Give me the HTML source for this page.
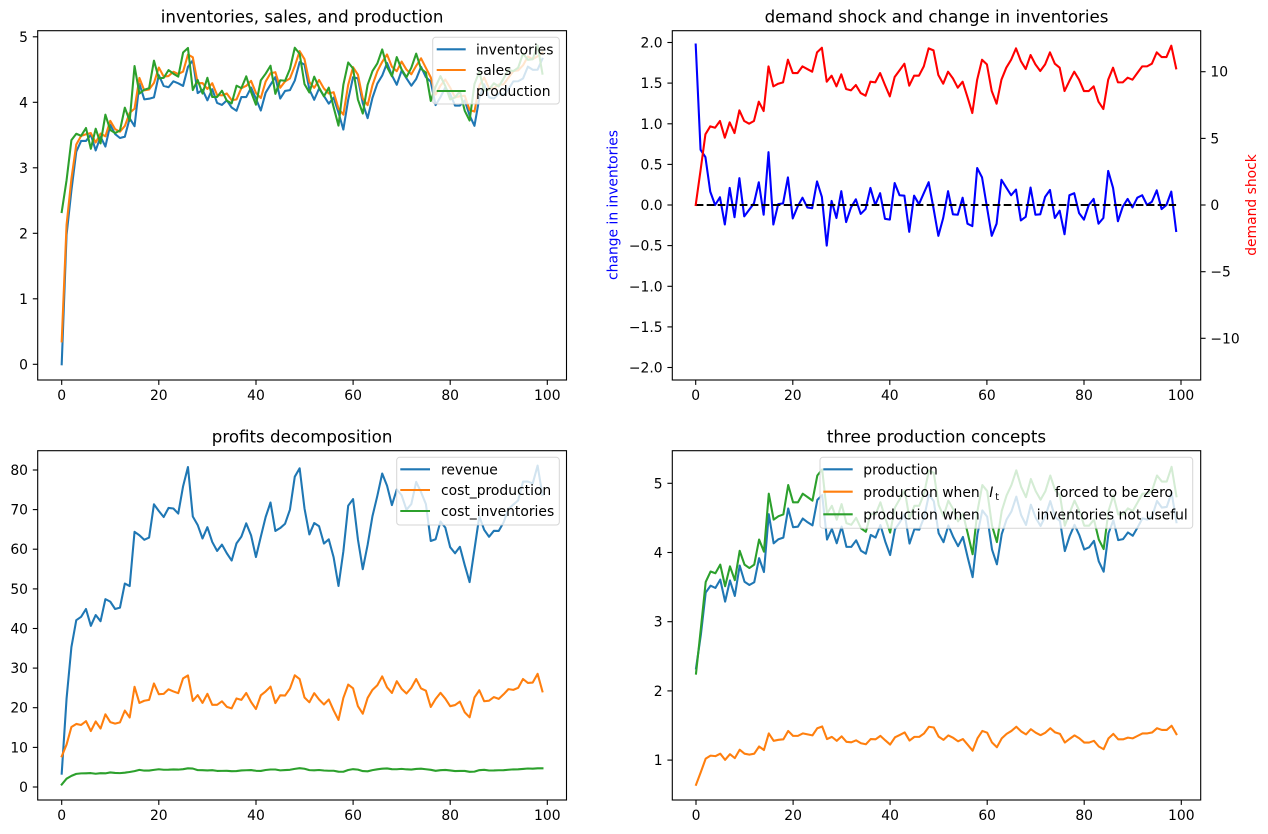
<!DOCTYPE html>
<html>
<head>
<meta charset="utf-8">
<style>
  html,body{margin:0;padding:0;background:#fff;}
  svg{display:block;}
  text{font-family:"DejaVu Sans","Liberation Sans",sans-serif;fill:#000;}
  .tk{font-size:13.89px;}
  .ttl{font-size:16.67px;}
  .lg{font-size:13.89px;}
</style>
</head>
<body>
<svg id="fig" width="1268" height="834" viewBox="0 0 1268 834" xmlns="http://www.w3.org/2000/svg">
  <rect x="0" y="0" width="1268" height="834" fill="#fff"/>

  <!-- ============ TOP LEFT ============ -->
  <g fill="none" stroke-width="2.08" stroke-linejoin="round" stroke-linecap="square">
    <polyline id="tl_inv" stroke="#1f77b4"/>
    <polyline id="tl_sal" stroke="#ff7f0e"/>
    <polyline id="tl_pro" stroke="#2ca02c"/>
  </g>
  <rect x="37.7" y="30.7" width="528.8" height="349.3" fill="none" stroke="#000" stroke-width="1.1"/>
  <g stroke="#000" stroke-width="1.1">
    <line x1="61.7" y1="380" x2="61.7" y2="384.9"/>
    <line x1="158.8" y1="380" x2="158.8" y2="384.9"/>
    <line x1="256.0" y1="380" x2="256.0" y2="384.9"/>
    <line x1="353.1" y1="380" x2="353.1" y2="384.9"/>
    <line x1="450.2" y1="380" x2="450.2" y2="384.9"/>
    <line x1="547.3" y1="380" x2="547.3" y2="384.9"/>
    <line x1="37.7" y1="364.3" x2="32.8" y2="364.3"/>
    <line x1="37.7" y1="298.8" x2="32.8" y2="298.8"/>
    <line x1="37.7" y1="233.3" x2="32.8" y2="233.3"/>
    <line x1="37.7" y1="167.8" x2="32.8" y2="167.8"/>
    <line x1="37.7" y1="102.3" x2="32.8" y2="102.3"/>
    <line x1="37.7" y1="36.8" x2="32.8" y2="36.8"/>
  </g>
  <g class="tk" text-anchor="middle">
    <text class="tk" x="61.7" y="400">0</text>
    <text class="tk" x="158.8" y="400">20</text>
    <text class="tk" x="256.0" y="400">40</text>
    <text class="tk" x="353.1" y="400">60</text>
    <text class="tk" x="450.2" y="400">80</text>
    <text class="tk" x="547.3" y="400">100</text>
  </g>
  <g text-anchor="end">
    <text class="tk" x="28" y="369.3">0</text>
    <text class="tk" x="28" y="303.8">1</text>
    <text class="tk" x="28" y="238.3">2</text>
    <text class="tk" x="28" y="172.8">3</text>
    <text class="tk" x="28" y="107.3">4</text>
    <text class="tk" x="28" y="41.8">5</text>
  </g>
  <text class="ttl" x="302.1" y="22.4" text-anchor="middle">inventories, sales, and production</text>
  <rect x="432.7" y="37.3" width="126.6" height="66.7" rx="3" fill="#fff" fill-opacity="0.8" stroke="#cccccc" stroke-opacity="0.8" stroke-width="1"/>
  <g stroke-width="2.08">
    <line x1="436.7" y1="49.3" x2="465.7" y2="49.3" stroke="#1f77b4"/>
    <line x1="436.7" y1="70" x2="465.7" y2="70" stroke="#ff7f0e"/>
    <line x1="436.7" y1="91" x2="465.7" y2="91" stroke="#2ca02c"/>
  </g>
  <text class="lg" x="476" y="54.5">inventories</text>
  <text class="lg" x="476" y="75.2">sales</text>
  <text class="lg" x="476" y="96.2">production</text>

  <!-- ============ TOP RIGHT ============ -->
  <g fill="none" stroke-width="2.08" stroke-linejoin="round" stroke-linecap="square">
    <polyline id="tr_di" stroke="#0000ff"/>
  </g>
  <line x1="695.7" y1="205" x2="1176.1" y2="205" stroke="#000" stroke-width="2.08" stroke-dasharray="7.7,3.3"/>
  <g fill="none" stroke-width="2.08" stroke-linejoin="round" stroke-linecap="square">
    <polyline id="tr_v" stroke="#ff0000"/>
  </g>
  <rect x="672.3" y="30.7" width="528.4" height="349.3" fill="none" stroke="#000" stroke-width="1.1"/>
  <g stroke="#000" stroke-width="1.1">
    <line x1="695.7" y1="380" x2="695.7" y2="384.9"/>
    <line x1="792.8" y1="380" x2="792.8" y2="384.9"/>
    <line x1="889.8" y1="380" x2="889.8" y2="384.9"/>
    <line x1="986.9" y1="380" x2="986.9" y2="384.9"/>
    <line x1="1084.0" y1="380" x2="1084.0" y2="384.9"/>
    <line x1="1181.0" y1="380" x2="1181.0" y2="384.9"/>
    <line x1="672.3" y1="42.5" x2="667.4" y2="42.5"/>
    <line x1="672.3" y1="83.1" x2="667.4" y2="83.1"/>
    <line x1="672.3" y1="123.8" x2="667.4" y2="123.8"/>
    <line x1="672.3" y1="164.4" x2="667.4" y2="164.4"/>
    <line x1="672.3" y1="205" x2="667.4" y2="205"/>
    <line x1="672.3" y1="245.6" x2="667.4" y2="245.6"/>
    <line x1="672.3" y1="286.3" x2="667.4" y2="286.3"/>
    <line x1="672.3" y1="326.9" x2="667.4" y2="326.9"/>
    <line x1="672.3" y1="367.5" x2="667.4" y2="367.5"/>
    <line x1="1200.7" y1="71.7" x2="1205.6" y2="71.7"/>
    <line x1="1200.7" y1="138.4" x2="1205.6" y2="138.4"/>
    <line x1="1200.7" y1="205" x2="1205.6" y2="205"/>
    <line x1="1200.7" y1="271.7" x2="1205.6" y2="271.7"/>
    <line x1="1200.7" y1="338.3" x2="1205.6" y2="338.3"/>
  </g>
  <g text-anchor="middle">
    <text class="tk" x="695.7" y="400">0</text>
    <text class="tk" x="792.8" y="400">20</text>
    <text class="tk" x="889.8" y="400">40</text>
    <text class="tk" x="986.9" y="400">60</text>
    <text class="tk" x="1084.0" y="400">80</text>
    <text class="tk" x="1181.0" y="400">100</text>
  </g>
  <g text-anchor="end">
    <text class="tk" x="662.6" y="47.5">2.0</text>
    <text class="tk" x="662.6" y="88.1">1.5</text>
    <text class="tk" x="662.6" y="128.8">1.0</text>
    <text class="tk" x="662.6" y="169.4">0.5</text>
    <text class="tk" x="662.6" y="210">0.0</text>
    <text class="tk" x="662.6" y="250.6">−0.5</text>
    <text class="tk" x="662.6" y="291.3">−1.0</text>
    <text class="tk" x="662.6" y="331.9">−1.5</text>
    <text class="tk" x="662.6" y="372.5">−2.0</text>
  </g>
  <g text-anchor="start">
    <text class="tk" x="1210.4" y="76.7">10</text>
    <text class="tk" x="1210.4" y="143.4">5</text>
    <text class="tk" x="1210.4" y="210">0</text>
    <text class="tk" x="1210.4" y="276.7">−5</text>
    <text class="tk" x="1210.4" y="343.3">−10</text>
  </g>
  <text class="tk" transform="translate(617.3,205) rotate(-90)" text-anchor="middle" style="fill:#0000ff">change in inventories</text>
  <text class="tk" transform="translate(1256,205) rotate(-90)" text-anchor="middle" style="fill:#ff0000">demand shock</text>
  <text class="ttl" x="936.5" y="22.4" text-anchor="middle">demand shock and change in inventories</text>

  <!-- ============ BOTTOM LEFT ============ -->
  <g fill="none" stroke-width="2.08" stroke-linejoin="round" stroke-linecap="square">
    <polyline id="bl_rev" stroke="#1f77b4"/>
    <polyline id="bl_cp" stroke="#ff7f0e"/>
    <polyline id="bl_ci" stroke="#2ca02c"/>
  </g>
  <rect x="37.7" y="450.7" width="528.8" height="349.3" fill="none" stroke="#000" stroke-width="1.1"/>
  <g stroke="#000" stroke-width="1.1">
    <line x1="61.7" y1="800" x2="61.7" y2="804.9"/>
    <line x1="158.8" y1="800" x2="158.8" y2="804.9"/>
    <line x1="256.0" y1="800" x2="256.0" y2="804.9"/>
    <line x1="353.1" y1="800" x2="353.1" y2="804.9"/>
    <line x1="450.2" y1="800" x2="450.2" y2="804.9"/>
    <line x1="547.3" y1="800" x2="547.3" y2="804.9"/>
    <line x1="37.7" y1="787" x2="32.8" y2="787"/>
    <line x1="37.7" y1="747.4" x2="32.8" y2="747.4"/>
    <line x1="37.7" y1="707.7" x2="32.8" y2="707.7"/>
    <line x1="37.7" y1="668.1" x2="32.8" y2="668.1"/>
    <line x1="37.7" y1="628.5" x2="32.8" y2="628.5"/>
    <line x1="37.7" y1="588.9" x2="32.8" y2="588.9"/>
    <line x1="37.7" y1="549.2" x2="32.8" y2="549.2"/>
    <line x1="37.7" y1="509.6" x2="32.8" y2="509.6"/>
    <line x1="37.7" y1="470" x2="32.8" y2="470"/>
  </g>
  <g text-anchor="middle">
    <text class="tk" x="61.7" y="820">0</text>
    <text class="tk" x="158.8" y="820">20</text>
    <text class="tk" x="256.0" y="820">40</text>
    <text class="tk" x="353.1" y="820">60</text>
    <text class="tk" x="450.2" y="820">80</text>
    <text class="tk" x="547.3" y="820">100</text>
  </g>
  <g text-anchor="end">
    <text class="tk" x="28" y="792">0</text>
    <text class="tk" x="28" y="752.4">10</text>
    <text class="tk" x="28" y="712.7">20</text>
    <text class="tk" x="28" y="673.1">30</text>
    <text class="tk" x="28" y="633.5">40</text>
    <text class="tk" x="28" y="593.9">50</text>
    <text class="tk" x="28" y="554.2">60</text>
    <text class="tk" x="28" y="514.6">70</text>
    <text class="tk" x="28" y="475">80</text>
  </g>
  <text class="ttl" x="302.1" y="442.4" text-anchor="middle">profits decomposition</text>
  <rect x="396.7" y="457.3" width="162.6" height="67.7" rx="3" fill="#fff" fill-opacity="0.8" stroke="#cccccc" stroke-opacity="0.8" stroke-width="1"/>
  <g stroke-width="2.08">
    <line x1="400.3" y1="469.3" x2="430" y2="469.3" stroke="#1f77b4"/>
    <line x1="400.3" y1="490" x2="430" y2="490" stroke="#ff7f0e"/>
    <line x1="400.3" y1="511" x2="430" y2="511" stroke="#2ca02c"/>
  </g>
  <text class="lg" x="441" y="474.5">revenue</text>
  <text class="lg" x="441" y="495.2">cost_production</text>
  <text class="lg" x="441" y="516.2">cost_inventories</text>

  <!-- ============ BOTTOM RIGHT ============ -->
  <g fill="none" stroke-width="2.08" stroke-linejoin="round" stroke-linecap="square">
    <polyline id="br_q" stroke="#1f77b4"/>
    <polyline id="br_z" stroke="#ff7f0e"/>
    <polyline id="br_n" stroke="#2ca02c"/>
  </g>
  <rect x="672.3" y="450.7" width="528.4" height="349.3" fill="none" stroke="#000" stroke-width="1.1"/>
  <g stroke="#000" stroke-width="1.1">
    <line x1="696" y1="800" x2="696" y2="804.9"/>
    <line x1="793.1" y1="800" x2="793.1" y2="804.9"/>
    <line x1="890.1" y1="800" x2="890.1" y2="804.9"/>
    <line x1="987.2" y1="800" x2="987.2" y2="804.9"/>
    <line x1="1084.2" y1="800" x2="1084.2" y2="804.9"/>
    <line x1="1181.3" y1="800" x2="1181.3" y2="804.9"/>
    <line x1="672.3" y1="760.1" x2="667.4" y2="760.1"/>
    <line x1="672.3" y1="690.9" x2="667.4" y2="690.9"/>
    <line x1="672.3" y1="621.7" x2="667.4" y2="621.7"/>
    <line x1="672.3" y1="552.5" x2="667.4" y2="552.5"/>
    <line x1="672.3" y1="483.3" x2="667.4" y2="483.3"/>
  </g>
  <g text-anchor="middle">
    <text class="tk" x="696" y="820">0</text>
    <text class="tk" x="793.1" y="820">20</text>
    <text class="tk" x="890.1" y="820">40</text>
    <text class="tk" x="987.2" y="820">60</text>
    <text class="tk" x="1084.2" y="820">80</text>
    <text class="tk" x="1181.3" y="820">100</text>
  </g>
  <g text-anchor="end">
    <text class="tk" x="662.6" y="765.1">1</text>
    <text class="tk" x="662.6" y="695.9">2</text>
    <text class="tk" x="662.6" y="626.7">3</text>
    <text class="tk" x="662.6" y="557.5">4</text>
    <text class="tk" x="662.6" y="488.3">5</text>
  </g>
  <text class="ttl" x="936.5" y="442.4" text-anchor="middle">three production concepts</text>
  <rect x="820" y="457.3" width="372.7" height="71" rx="3" fill="#fff" fill-opacity="0.8" stroke="#cccccc" stroke-opacity="0.8" stroke-width="1"/>
  <g stroke-width="2.08">
    <line x1="823.3" y1="469.3" x2="852.7" y2="469.3" stroke="#1f77b4"/>
    <line x1="823.3" y1="491.7" x2="852.7" y2="491.7" stroke="#ff7f0e"/>
    <line x1="823.3" y1="514.3" x2="852.7" y2="514.3" stroke="#2ca02c"/>
  </g>
  <text class="lg" x="863.3" y="474.5">production</text>
  <text class="lg" x="863.3" y="496.9">production when</text>
  <text class="lg" x="989.3" y="496.9" font-style="italic">I</text>
  <text x="995.3" y="500" style="font-size:9.7px">t</text>
  <text class="lg" x="1055" y="496.9">forced to be zero</text>
  <text class="lg" x="863.3" y="519.5">production when</text>
  <text class="lg" x="1036.7" y="519.5">inventories not useful</text>
</svg>

<script>
(function(){
var v=[0,2.6,5.3,5.9,5.8,6.3,5.05,6.2,5.4,7.1,
6.3,6.1,6.3,7.75,7.05,10.4,8.9,9.1,9.2,10.9,
9.9,9.9,10.4,10.2,10.0,11.45,11.8,9.25,9.7,8.9,
9.8,8.7,8.6,9.0,8.4,8.2,9.25,9.2,9.9,9.0,
8.15,9.6,10.1,10.6,8.95,9.7,9.7,10.4,11.75,11.6,
9.75,9.1,10.0,9.5,8.8,9.25,8.1,6.9,9.4,10.9,
10.55,8.55,7.6,9.4,10.3,10.9,11.75,10.8,10.2,11.25,
10.55,10.05,10.55,11.45,10.6,10.3,8.55,9.3,10.0,9.4,
8.55,8.55,8.9,7.75,7.2,9.4,10.3,9.2,9.2,9.55,
9.4,9.9,10.4,10.4,10.6,11.45,11.1,11.1,11.95,10.25];
var dI=[1.975,0.68,0.59,0.165,0.0,0.095,-0.24,0.21,-0.15,0.33,
-0.14,-0.06,0.02,0.28,-0.12,0.65,-0.24,0.01,0.02,0.34,
-0.165,-0.02,0.09,-0.03,-0.04,0.29,0.10,-0.50,0.05,-0.16,
0.17,-0.21,-0.03,0.07,-0.11,-0.05,0.21,0.0,0.145,-0.17,
-0.18,0.27,0.12,0.115,-0.33,0.115,0.01,0.145,0.28,-0.04,
-0.38,-0.16,0.17,-0.115,-0.12,0.09,-0.23,-0.26,0.455,0.34,
-0.02,-0.38,-0.23,0.31,0.215,0.12,0.19,-0.19,-0.145,0.215,
-0.12,-0.115,0.10,0.185,-0.16,-0.07,-0.36,0.12,0.145,-0.10,
-0.18,0.0,0.075,-0.23,-0.16,0.42,0.21,-0.20,-0.02,0.075,
-0.03,0.09,0.12,0.0,0.04,0.18,-0.05,0.0,0.165,-0.32];
var N=100,I=[0],i;
for(i=1;i<N;i++){I[i]=I[i-1]+dI[i-1];}
var Ic=[];
for(i=0;i<N;i++){Ic[i]=I[i]+(i>41?0.1*(i-41)/58:0);}
var S=[],Q=[],rev=[],cp=[],ci=[],pz=[],pn=[];
for(i=0;i<N;i++){
  S[i]=0.35+0.836*Ic[i]+0.0495*v[i];
  Q[i]=S[i]+dI[i];
  rev[i]=(10-S[i]+v[i])*S[i];
  cp[i]=Q[i]+Q[i]*Q[i];
  ci[i]=Ic[i]+5*(S[i]-Ic[i])*(S[i]-Ic[i]);
  pz[i]=(9+v[i])/14;
  pn[i]=(9+v[i])/4;
}
function pts(arr,x0,dx,y0,dy){
  var s=[];
  for(var k=0;k<arr.length;k++){s.push((x0+dx*k).toFixed(2)+","+(y0-dy*arr[k]).toFixed(2));}
  return s.join(" ");
}
function set(id,p){document.getElementById(id).setAttribute("points",p);}
set("tl_inv",pts(Ic,61.7,4.856,364.3,65.5));
set("tl_sal",pts(S,61.7,4.856,364.3,65.5));
set("tl_pro",pts(Q,61.7,4.856,364.3,65.5));
set("tr_di",pts(dI,695.7,4.853,205,81.25));
set("tr_v",pts(v,695.7,4.853,205,13.33));
set("bl_rev",pts(rev,61.7,4.856,787,3.963));
set("bl_cp",pts(cp,61.7,4.856,787,3.963));
set("bl_ci",pts(ci,61.7,4.856,787,3.963));
set("br_q",pts(Q,696,4.853,829.3,69.2));
set("br_z",pts(pz,696,4.853,829.3,69.2));
set("br_n",pts(pn,696,4.853,829.3,69.2));
})();
</script>
</body>
</html>
